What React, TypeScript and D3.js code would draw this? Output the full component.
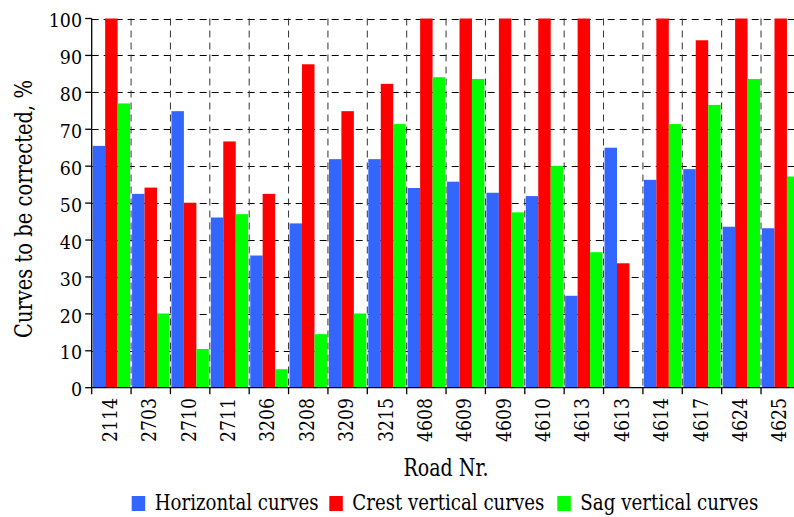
import React from "react";
import * as d3 from "d3";

const categories = ["2114","2703","2710","2711","3206","3208","3209","3215","4608","4609","4609","4610","4613","4613","4614","4617","4624","4625"];
const horizontal = [65.5, 52.5, 74.9, 46.1, 35.8, 44.5, 61.9, 61.9, 54.1, 55.8, 52.8, 51.9, 24.9, 65.0, 56.3, 59.2, 43.6, 43.2];
const crest = [100, 54.2, 50.1, 66.7, 52.5, 87.6, 74.9, 82.3, 100, 100, 100, 100, 100, 33.7, 100, 94.1, 100, 100];
const sag = [77.0, 20.1, 10.5, 47.0, 5.0, 14.5, 20.1, 71.4, 84.1, 83.6, 47.5, 60.1, 36.7, 0, 71.4, 76.6, 83.6, 57.2];
const seriesNames = ["Horizontal curves", "Crest vertical curves", "Sag vertical curves"];
const seriesColors = ["#3366ff", "#ff0000", "#00ff00"];
const yTicks = [0, 10, 20, 30, 40, 50, 60, 70, 80, 90, 100];

const W = 794, H = 517;
const left = 91.7, right = 800.4, top = 18.5, bottom = 387.7;
const FONT = "DejaVu Serif";

export default function App() {
  const series = [horizontal, crest, sag];
  const x = d3.scaleBand<number>().domain(categories.map((_, i) => i)).range([left, right]).padding(0);
  const bw = x.bandwidth();
  const inner = d3.scaleBand<number>().domain([0, 1, 2]).range([1, bw - 1]).padding(0);
  const y = d3.scaleLinear().domain([0, 100]).range([bottom, top]);
  const boundaries = categories.map((_, i) => x(i)!).concat([right]);

  const legendX = [131.7, 329.3, 557.3];
  const legendLen = [164, 192, 178];
  const ts = { fontFamily: FONT };

  return (
    <svg width={W} height={H} style={{ position: "absolute", left: 0, top: 0, background: "#fff" }}>
      <rect x={0} y={0} width={W} height={H} fill="#fff" />
      {yTicks.filter(t => t > 0).map(t => (
        <line key={"h" + t} x1={left} x2={right} y1={Math.round(y(t)) + 0.5} y2={Math.round(y(t)) + 0.5}
          stroke="#000" strokeWidth={1} strokeDasharray="7,5" />
      ))}
      {boundaries.slice(1).map((b, i) => (
        <line key={"v" + i} x1={b} x2={b} y1={top} y2={bottom} stroke="#333" strokeWidth={1} strokeDasharray="7,5" />
      ))}
      {categories.map((_, i) => (
        <g key={"g" + i}>
          {series.map((s, k) => (
            s[i] > 0 ? (
              <rect key={k} x={x(i)! + inner(k)!} y={y(s[i])} width={inner.bandwidth()} height={bottom - y(s[i])}
                fill={seriesColors[k]} />
            ) : null
          ))}
        </g>
      ))}
      <line x1={left} x2={left} y1={top} y2={bottom} stroke="#000" strokeWidth={1.3} />
      <line x1={left} x2={W} y1={bottom} y2={bottom} stroke="#000" strokeWidth={1.3} />
      {yTicks.map(t => (
        <g key={"yt" + t}>
          <line x1={left - 6.5} x2={left} y1={y(t)} y2={y(t)} stroke="#000" strokeWidth={1.3} />
          <text x={82} y={y(t) + 8.7} textAnchor="end" fontSize={18.5} fill="#000" style={ts}
            textLength={String(t).length * 11.1} lengthAdjust="spacingAndGlyphs">{t}</text>
        </g>
      ))}
      {boundaries.map((b, i) => (
        <line key={"xt" + i} x1={b} x2={b} y1={bottom} y2={bottom + 6.5} stroke="#000" strokeWidth={1.3} />
      ))}
      {categories.map((c, i) => {
        const cx = x(i)! + bw / 2 - 1.4;
        return (
          <text key={"xl" + i} transform={`translate(${cx},398) rotate(-90)`} textAnchor="end" dominantBaseline="central"
            fontSize={20} fill="#000" style={ts} textLength={44} lengthAdjust="spacingAndGlyphs">{c}</text>
        );
      })}
      <text transform={`translate(32,209) rotate(-90)`} textAnchor="middle" fontSize={23.5} fill="#000" style={ts}
        textLength={258} lengthAdjust="spacingAndGlyphs">Curves to be corrected, %</text>
      <text x={446} y={476} textAnchor="middle" fontSize={23.5} fill="#000" style={ts}
        textLength={85} lengthAdjust="spacingAndGlyphs">Road Nr.</text>
      {seriesNames.map((n, k) => (
        <g key={"lg" + k}>
          <rect x={legendX[k]} y={496} width={13.5} height={15} fill={seriesColors[k]} />
          <text x={legendX[k] + 23} y={510} fontSize={22} fill="#000" style={ts}
            textLength={legendLen[k]} lengthAdjust="spacingAndGlyphs">{n}</text>
        </g>
      ))}
    </svg>
  );
}
